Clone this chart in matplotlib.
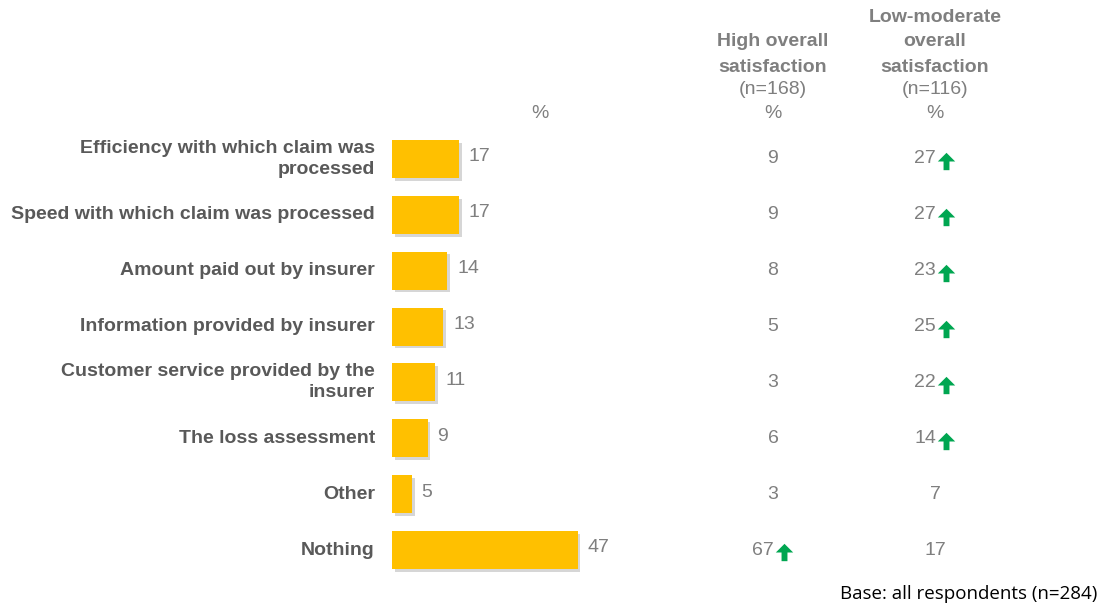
import matplotlib
matplotlib.use("Agg")
import matplotlib.pyplot as plt
import matplotlib.patheffects as pe
from matplotlib.path import Path

categories = [
    "Efficiency with which claim was\nprocessed",
    "Speed with which claim was processed",
    "Amount paid out by insurer",
    "Information provided by insurer",
    "Customer service provided by the\ninsurer",
    "The loss assessment",
    "Other",
    "Nothing",
]
overall = [17, 17, 14, 13, 11, 9, 5, 47]
high_sat = [9, 9, 8, 5, 3, 6, 3, 67]
low_sat = [27, 27, 23, 25, 22, 14, 7, 17]
high_sig = [False, False, False, False, False, False, False, True]
low_sig = [True, True, True, True, True, True, False, False]

W, H = 1111, 608
fig = plt.figure(figsize=(W / 100, H / 100), dpi=100)
fig.patch.set_facecolor("white")

GRAY = "#7F7F7F"
LABEL = "#595959"
GREEN = "#00A651"
FONT = "Liberation Sans"
FS = 14

# bar axes
left_px, top_px, bottom_px = 392, 131, 578
xmax = 60
px_per_unit = 3.95
pos_y = 1 - bottom_px / H
pos_h = (bottom_px - top_px) / H
ax = fig.add_axes([left_px / W, pos_y, xmax * px_per_unit / W, pos_h])
ax.set_xlim(0, xmax)
ax.set_ylim(len(categories) - 0.5, -0.5)
ax.axis("off")

# overlay axes: x in figure pixels, y in rows
ov = fig.add_axes([0, pos_y, 1, pos_h], zorder=3)
ov.set_xlim(0, W)
ov.set_ylim(len(categories) - 0.5, -0.5)
ov.axis("off")
ov.patch.set_alpha(0)

ypos = list(range(len(categories)))
ax.barh(ypos, overall, height=0.68, color="#FFC000",
        path_effects=[pe.SimplePatchShadow(offset=(2, -2), shadow_rgbFace="#7a7a7a", alpha=0.3), pe.Normal()])

for y, v in zip(ypos, overall):
    ax.annotate(str(v), (v, y), xytext=(7, 1.5), textcoords="offset points",
                ha="left", va="center", fontsize=FS, color=GRAY, family=FONT)

for y, c in zip(ypos, categories):
    ov.text(375, y, c, ha="right", va="center", multialignment="right",
            fontsize=FS, fontweight="bold", color=LABEL, family=FONT, linespacing=1.3)

arrow = Path([(-0.5, 0.0), (0.0, 0.5), (0.5, 0.0), (0.17, 0.0), (0.17, -0.5),
              (-0.17, -0.5), (-0.17, 0.0), (-0.5, 0.0)],
             [Path.MOVETO] + [Path.LINETO] * 6 + [Path.CLOSEPOLY])

def col(xc, vals, sigs):
    for y, v, s in zip(ypos, vals, sigs):
        if s:
            ov.text(xc + 1, y, str(v), ha="right", va="center",
                    fontsize=FS, color=GRAY, family=FONT)
            ov.plot([xc + 11], [y + 0.04], marker=arrow, markersize=12.5,
                    color=GREEN, markeredgewidth=0, linestyle="none")
        else:
            ov.text(xc, y, str(v), ha="center", va="center",
                    fontsize=FS, color=GRAY, family=FONT)

col(773, high_sat, high_sig)
col(935, low_sat, low_sig)

def htext(x, y, s, bold):
    fig.text(x / W, 1 - y / H, s, ha="center", va="center", fontsize=FS,
             fontweight="bold" if bold else "normal", color=GRAY, family=FONT)

htext(540, 113, "%", False)
htext(773, 42, "High overall", True)
htext(773, 67, "satisfaction", True)
htext(773, 89, "(n=168)", False)
htext(773, 113, "%", False)
htext(935, 18, "Low-moderate", True)
htext(935, 42, "overall", True)
htext(935, 67, "satisfaction", True)
htext(935, 89, "(n=116)", False)
htext(935, 113, "%", False)

fig.text(1097 / W, 1 - 594 / H, "Base: all respondents (n=284)", ha="right", va="center",
         fontsize=13.5, color="black", family="Open Sans")

fig.savefig("out.png", dpi=100, facecolor="white")
